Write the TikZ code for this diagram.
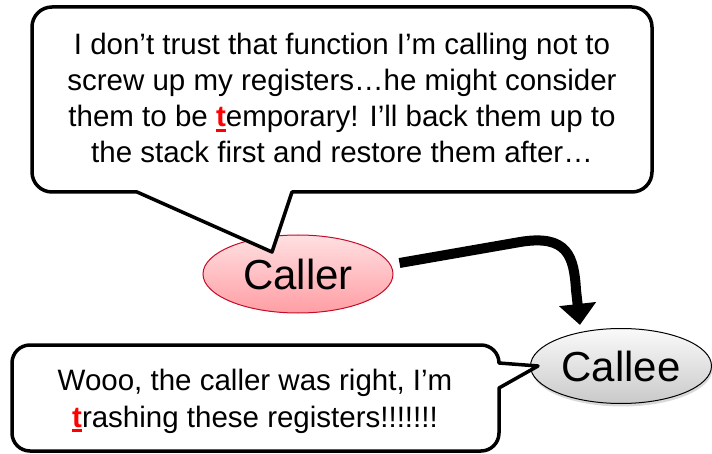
\documentclass[tikz,border=0pt]{standalone}
\usepackage{fontspec}
\setmainfont{Liberation Sans}
\usetikzlibrary{shapes.geometric,arrows.meta,shadows}
\newcommand\redt{{\color{red}\bfseries\setbox0\hbox{t}\rlap{\rule[-5pt]{\wd0}{3pt}}\box0}}
\definecolor{callerTop}{RGB}{255,224,226}
\definecolor{callerBot}{RGB}{255,158,164}
\definecolor{callerLine}{RGB}{196,12,40}
\begin{document}
\begin{tikzpicture}[x=1pt,y=1pt,
  bubble/.style={line width=3.5pt,line join=round,fill=white,draw=black},
  talk/.style={font=\fontsize{29.5}{36}\selectfont,align=center,inner sep=0pt},
  actor/.style={ellipse,inner sep=0pt,font=\fontsize{42}{48}\selectfont,line width=1pt},
  flow/.style={line width=10pt,-{Triangle[width=36pt,length=21pt]}}]
\useasboundingbox (0,0) rectangle (712,453);
% actors
\node[actor,minimum width=190pt,minimum height=78pt,draw=callerLine,
  top color=callerTop,bottom color=callerBot] (caller) at (298,179) {Caller};
\node[actor,minimum width=181pt,minimum height=75pt,draw=black,
  top color=gray!4,bottom color=gray!42,
  drop shadow={shadow xshift=1pt,shadow yshift=-3pt,opacity=0.3}] (callee) at (621,87) {Callee};
% top callout
\draw[bubble] (137,261) -- (52,261) arc[start angle=270,end angle=180,radius=20]
  -- (32,426) arc[start angle=180,end angle=90,radius=20]
  -- (632,446) arc[start angle=90,end angle=0,radius=20]
  -- (652,281) arc[start angle=0,end angle=-90,radius=20]
  -- (292,261) -- (272,201) -- cycle;
\node[talk] (t1) at (342,355) {I don’t trust that function I’m calling not to\\
screw up my registers…he might consider\\
them to be \redt emporary! I’ll back them up to\\
the stack first and restore them after…};
% bottom callout
\draw[bubble] (499,90) -- (538,87) -- (499,65)
  -- (499,20) arc[start angle=0,end angle=-90,radius=18]
  -- (30,2) arc[start angle=270,end angle=180,radius=18]
  -- (12,90) arc[start angle=180,end angle=90,radius=18]
  -- (481,108) arc[start angle=90,end angle=0,radius=18] -- cycle;
\node[talk,font=\fontsize{29.5}{37}\selectfont] (t2) at (255,52) {Wooo, the caller was right, I’m\\
\redt rashing these registers!!!!!!!};
% arrow
\draw[flow] ([shift={(6,11)}]caller.east) -- (520,211)
  .. controls (568,219) and (574,196) .. (576,163) -- ([shift={(-6,6)}]callee.135);
\end{tikzpicture}
\end{document}
